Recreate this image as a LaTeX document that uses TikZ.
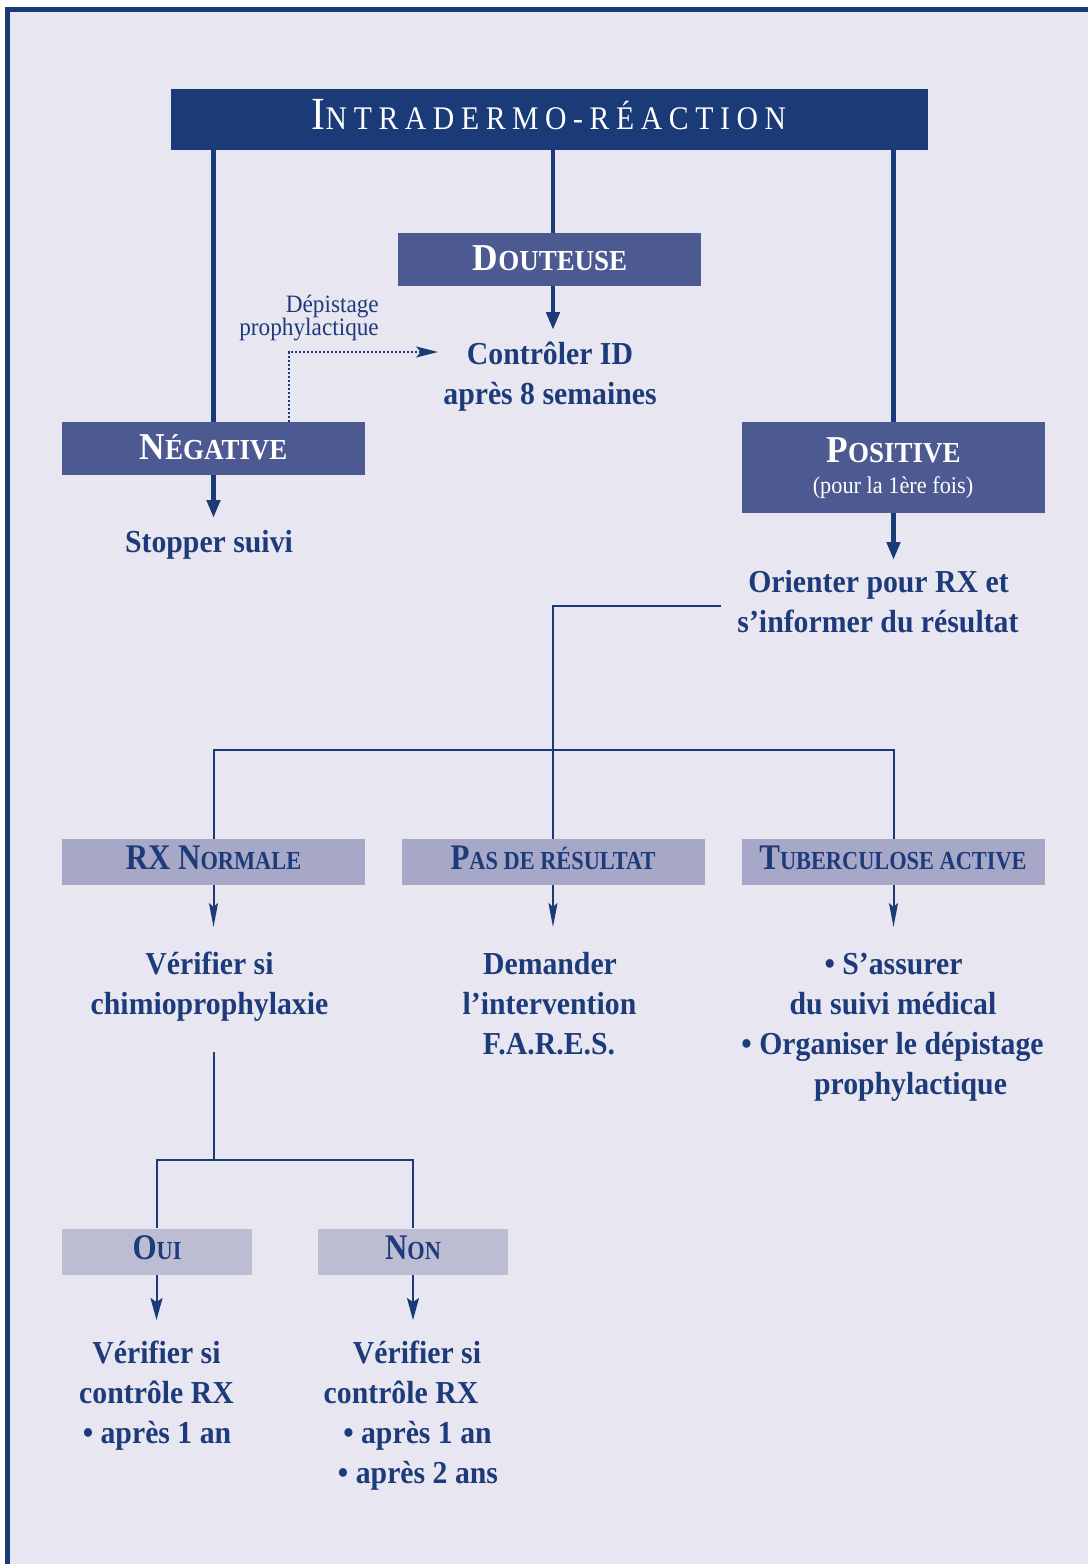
\documentclass[tikz,border=0pt]{standalone}
\usepackage{fontspec}
\setmainfont{Liberation Serif}[FakeStretch=0.93]
\newfontfamily\hdrfont{Liberation Serif}[FakeStretch=0.9,LetterSpace=20]
\newfontfamily\lblfont{Liberation Serif}[FakeStretch=0.86]
\usetikzlibrary{arrows.meta}
\definecolor{bgc}{HTML}{E8E7F1}
\definecolor{navy}{HTML}{1B3A78}
\definecolor{midc}{HTML}{4D5A91}
\definecolor{lightc}{HTML}{A7A8C7}
\definecolor{paler}{HTML}{BCBDD3}
\definecolor{txtc}{HTML}{1D3B7A}
\newcommand\scx[4]{{\fontsize{#1}{#1}\selectfont #3}{\fontsize{#2}{#2}\selectfont #4}}
\tikzset{
  hdrbox/.style={fill=navy, minimum width=757, minimum height=61, inner sep=0},
  midbox/.style={fill=midc, minimum width=303, minimum height=53, inner sep=0},
  lightbox/.style={fill=lightc, minimum width=303, minimum height=46, inner sep=0},
  palebox/.style={fill=paler, minimum width=190, minimum height=46, inner sep=0},
  wlbl/.style={anchor=base, text=white, inner sep=0, font=\bfseries},
  nlbl/.style={anchor=base, text=txtc, inner sep=0, font=\lblfont\bfseries},
  body/.style={anchor=base, text=txtc, inner sep=0, font=\bfseries\fontsize{32}{40}\selectfont},
  small/.style={anchor=base east, text=txtc, inner sep=0, font=\fontsize{25}{25}\selectfont},
  thick line/.style={line width=4.5pt, draw=navy},
  thickarr/.style={line width=4.5pt, draw=navy, -{Triangle[length=18pt,width=13pt]}},
  thin line/.style={line width=2pt, draw=navy},
  thinarr/.style={line width=2pt, draw=navy, -{Stealth[length=24pt,width=9pt,inset=4pt]}},
  thinarr2/.style={line width=2pt, draw=navy, -{Stealth[length=22pt,width=12pt,inset=4pt]}},
  dotarr/.style={line width=2pt, draw=navy, dotted, -{Stealth[length=22pt,width=11pt,inset=5pt]}},
}
\begin{document}
\begin{tikzpicture}[x=1pt,y=-1pt]
\useasboundingbox (0,0) rectangle (1088,1564);
\fill[white] (0,0) rectangle (1088,1564);
\fill[bgc] (5,7) rectangle (1088,1564);
\fill[navy] (5,7) rectangle (1088,12);
\fill[navy] (5,7) rectangle (10,1564);

% header
\node[hdrbox] (hdr) at (549.5,119.5) {};
\node[anchor=base, text=white, inner sep=0, font=\hdrfont] (hdrl) at (549,129) {\scx{46}{33}{I}{NTRADERMO-RÉACTION}};

% level 1 boxes
\node[midbox] (dout) at (549.5,259.5) {};
\node[wlbl] (doutl) at (550,270) {\scx{38}{29}{D}{OUTEUSE}};
\node[midbox] (neg) at (213.5,448.5) {};
\node[wlbl] (negl) at (213.5,459) {\scx{38}{29}{N}{ÉGATIVE}};
\node[midbox, minimum height=91] (pos) at (893.5,467.5) {};
\node[wlbl] (posl) at (893.5,462) {\scx{38}{29}{P}{OSITIVE}};
\node[anchor=base, text=white, inner sep=0, font=\fontsize{24}{24}\selectfont] (posl2) at (893,493) {(pour la 1ère fois)};

\coordinate (dline) at (553,150);
\coordinate (dtip) at (553,330);
\draw[thick line] (hdr.south -| neg.north) -- (neg.north);
\draw[thick line] (hdr.south -| dline) -- (dout.north -| dline);
\draw[thick line] (hdr.south -| pos.north) -- (pos.north);
\draw[thickarr] (dout.south -| dtip) -- (dtip);

\coordinate (negtip) at (213.5,518);
\draw[thickarr] (neg.south) -- (negtip);
\coordinate (postip) at (893.5,560);
\draw[thickarr] (pos.south) -- (postip);

% texts level 1
\node[body] (ctrl1) at (550,364) {Contrôler ID};
\node[body] (ctrl2) at (550,404) {après 8 semaines};
\node[body] (stop) at (209,552) {Stopper suivi};
\node[body] (ori1) at (878.5,592) {Orienter pour RX et};
\node[body] (ori2) at (878,632) {s’informer du résultat};

% dotted
\node[small] (dep1) at (379,312) {Dépistage};
\node[small] (dep2) at (379,335) {prophylactique};
\coordinate (dotc) at (289,352);
\coordinate (dottip) at (438,352);
\draw[dotarr] (neg.north -| dotc) -- (dotc) -- (dottip);

% level 2 tree
\node[lightbox] (rxn) at (213.5,862) {};
\node[lightbox] (pas) at (553.5,862) {};
\node[lightbox] (tub) at (893.5,862) {};
\node[nlbl] (rxnl) at (213.5,869) {\scx{36}{26}{RX N}{ORMALE}};
\node[nlbl] (pasl) at (553,869) {\scx{36}{26}{P}{AS DE RÉSULTAT}};
\node[nlbl] (tubl) at (893,869) {\scx{36}{26}{T}{UBERCULOSE ACTIVE}};

\coordinate (oL) at (721,606);
\coordinate (oC) at (553,606);
\coordinate (hL) at (213.5,750);
\coordinate (hR) at (893.5,750);
\draw[thin line] (oL) -- (oC) -- (oC |- pas.north);
\draw[thin line] (rxn.north) -- (hL) -- (hR) -- (tub.north);

\coordinate (t1) at (213.5,927);
\coordinate (t2) at (553,927);
\coordinate (t3) at (893.5,927);
\draw[thinarr] (rxn.south) -- (t1);
\draw[thinarr] (pas.south -| t2) -- (t2);
\draw[thinarr] (tub.south) -- (t3);

\node[body] (v1) at (209.5,974) {Vérifier si};
\node[body] (v2) at (209.5,1014) {chimioprophylaxie};
\node[body] (d1) at (550,974) {Demander};
\node[body] (d2) at (549.5,1014) {l’intervention};
\node[body] (d3) at (549,1054) {F.A.R.E.S.};
\node[body] (s1) at (893.5,974) {• S’assurer};
\node[body] (s2) at (893,1014) {du suivi médical};
\node[body] (s3) at (892.5,1054) {• Organiser le dépistage};
\node[body] (s4) at (910.5,1094) {prophylactique};

% level 3
\node[palebox] (oui) at (156.5,1251.5) {};
\node[palebox] (non) at (413,1251.5) {};
\node[nlbl] (ouil) at (157,1259) {\scx{36}{26}{O}{UI}};
\node[nlbl] (nonl) at (413,1259) {\scx{36}{26}{N}{ON}};
\coordinate (c0) at (213.5,1052);
\coordinate (cL) at (156.5,1160);
\coordinate (cR) at (413,1160);
\draw[thin line] (c0) -- (c0 |- cL);
\draw[thin line] (oui.north) -- (cL) -- (cR) -- (non.north);
\coordinate (ot) at (156.5,1320);
\coordinate (nt) at (413,1320);
\draw[thinarr2] (oui.south) -- (ot);
\draw[thinarr2] (non.south) -- (nt);

\node[body] (o1) at (156.5,1363) {Vérifier si};
\node[body] (o2) at (156.5,1403) {contrôle RX};
\node[body] (o3) at (157,1443) {• après 1 an};
\node[body] (n1) at (417,1363) {Vérifier si};
\node[body] (n2) at (401,1403) {contrôle RX};
\node[body] (n3) at (417.5,1443) {• après 1 an};
\node[body] (n4) at (418,1483) {• après 2 ans};
\end{tikzpicture}
\end{document}
